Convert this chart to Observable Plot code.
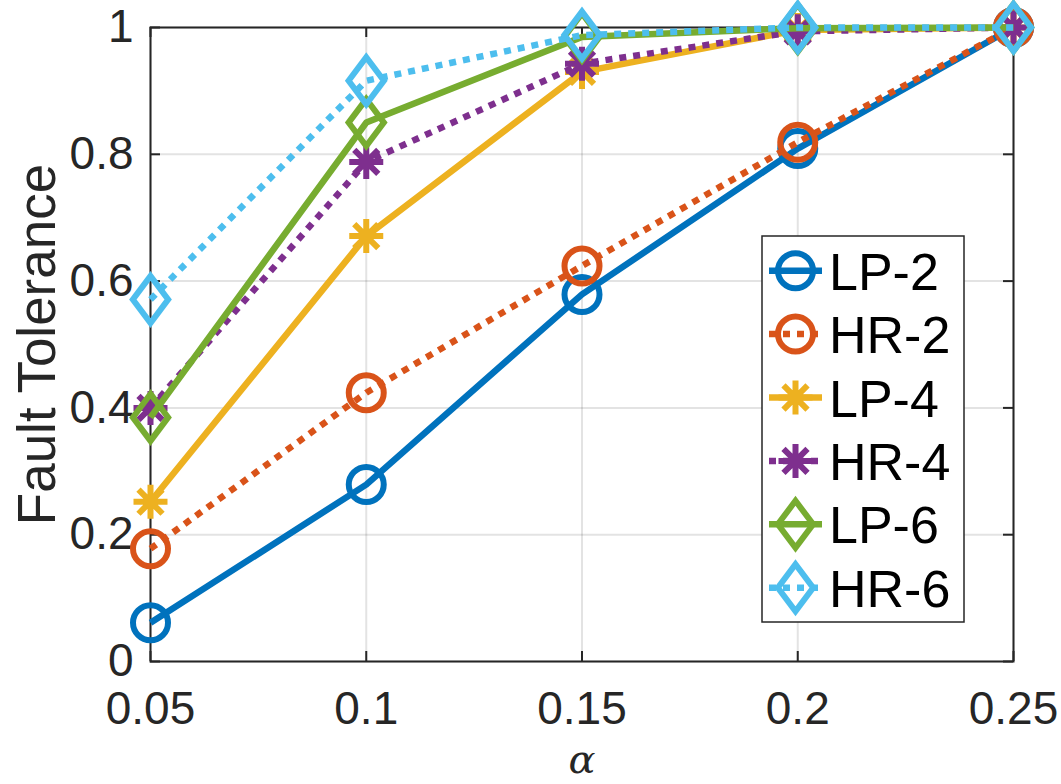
<!DOCTYPE html>
<html><head><meta charset="utf-8">
<script src="https://cdn.jsdelivr.net/npm/d3@7"></script>
<script src="https://cdn.jsdelivr.net/npm/@observablehq/plot@0.6"></script>
<style>html,body{margin:0;padding:0;background:#fff;} #chart{width:1061px;height:784px;overflow:hidden}</style>
</head><body><div id="chart"></div>
<script>
// ---- data ----
const alpha = [0.05, 0.1, 0.15, 0.2, 0.25];
const seriesNames = ["LP-2", "HR-2", "LP-4", "HR-4", "LP-6", "HR-6"];
const LP2 = [0.061, 0.279, 0.579, 0.809, 1.0];
const HR2 = [0.178, 0.424, 0.624, 0.819, 1.0];
const LP4 = [0.252, 0.671, 0.930, 0.996, 1.0];
const HR4 = [0.400, 0.788, 0.943, 0.994, 1.0];
const LP6 = [0.385, 0.850, 0.985, 0.999, 1.0];
const HR6 = [0.571, 0.916, 0.988, 1.000, 1.0];
const seriesValues = [LP2, HR2, LP4, HR4, LP6, HR6];
const xTicks = [0.05, 0.1, 0.15, 0.2, 0.25];
const xTickLabels = ["0.05", "0.1", "0.15", "0.2", "0.25"];
const yTicks = [0, 0.2, 0.4, 0.6, 0.8, 1];
const yTickLabels = ["0", "0.2", "0.4", "0.6", "0.8", "1"];
const xLabel = "\u03B1";
const yLabel = "Fault Tolerance";

// ---- styles ----
const colors = ["#0072BD", "#D95319", "#EDB120", "#7E2F8E", "#77AC30", "#4DBEEE"];
const dotted = "7,7";
const dashes = [null, dotted, null, dotted, null, dotted];

const asterisk = {draw(ctx, size) {
  const r = Math.sqrt(size / Math.PI), d = r / Math.SQRT2;
  ctx.moveTo(-r, 0); ctx.lineTo(r, 0);
  ctx.moveTo(0, -r); ctx.lineTo(0, r);
  ctx.moveTo(-d, -d); ctx.lineTo(d, d);
  ctx.moveTo(-d, d); ctx.lineTo(d, -d);
}};
const diamond = {draw(ctx, size) {
  const r = Math.sqrt(size / Math.PI), w = r * 0.75;
  ctx.moveTo(0, -r); ctx.lineTo(w, 0); ctx.lineTo(0, r); ctx.lineTo(-w, 0); ctx.closePath();
}};
const symbols = ["circle", "circle", asterisk, asterisk, diamond, diamond];
const radii = [17.5, 17.5, 17, 17, 23.5, 23.5];
const lineW = 6.5, markW = 6;

const tickColor = "#262626";
const W = 1061, H = 784, mL = 150, mR = 48, mT = 27, mB = 123;
const fw = W - mL - mR, fh = H - mT - mB, tl = 10;

const tables = seriesNames.map((name, s) => alpha.map((a, i) => ({alpha: a, value: seriesValues[s][i], series: name})));

const seriesMarks = tables.flatMap((t, s) => [
  Plot.line(t, {x: "alpha", y: "value", stroke: colors[s], strokeWidth: lineW, strokeDasharray: dashes[s], strokeLinejoin: "round", strokeLinecap: "butt"}),
  Plot.dot(t, {x: "alpha", y: "value", r: radii[s], symbol: symbols[s], stroke: colors[s], strokeWidth: markW, fill: "none", strokeLinejoin: "miter"})
]);

const plot = Plot.plot({
  width: W, height: H,
  marginLeft: mL, marginRight: mR, marginTop: mT, marginBottom: mB,
  style: {fontFamily: "'Liberation Sans', Arial, sans-serif", background: "#fff", overflow: "visible"},
  x: {domain: [0.05, 0.25], ticks: xTicks},
  y: {domain: [0, 1], ticks: yTicks},
  marks: [
    Plot.gridX(xTicks, {stroke: "#000", strokeOpacity: 0.11, strokeWidth: 2}),
    Plot.gridY(yTicks, {stroke: "#000", strokeOpacity: 0.11, strokeWidth: 2}),
    Plot.frame({stroke: tickColor, strokeWidth: 2}),
    Plot.tickX(xTicks, {x: d => d, stroke: tickColor, strokeWidth: 2, insetTop: fh - tl}),
    Plot.tickX(xTicks, {x: d => d, stroke: tickColor, strokeWidth: 2, insetBottom: fh - tl}),
    Plot.tickY(yTicks, {y: d => d, stroke: tickColor, strokeWidth: 2, insetRight: fw - tl}),
    Plot.tickY(yTicks, {y: d => d, stroke: tickColor, strokeWidth: 2, insetLeft: fw - tl}),
    Plot.axisX(xTicks, {anchor: "bottom", tickSize: 0, tickPadding: 30, fontSize: 46, color: tickColor, tickFormat: d => xTickLabels[xTicks.indexOf(d)], label: null}),
    Plot.axisY(yTicks, {anchor: "left", tickSize: 0, tickPadding: 17, fontSize: 46, color: tickColor, tickFormat: d => yTickLabels[yTicks.indexOf(d)], label: null}),
    Plot.text([yLabel], {frameAnchor: "left", textAnchor: "middle", lineAnchor: "middle", dx: -112, rotate: -90, fontSize: 53, fill: tickColor}),
    Plot.text([xLabel], {frameAnchor: "bottom", textAnchor: "middle", lineAnchor: "middle", dy: 99, fontSize: 40, fontStyle: "italic", fontFamily: "'DejaVu Serif', 'Liberation Serif', serif", fill: tickColor}),
    ...seriesMarks
  ]
});

// ---- legend ----
const svg = d3.select(plot);
const lg = svg.append("g").attr("class", "legend").attr("text-anchor", "start");
const bx = 762, by = 236, bw = 202, bh = 386, rowH = 63.4, row0 = 270.7;
lg.append("rect").attr("x", bx).attr("y", by).attr("width", bw).attr("height", bh)
  .attr("fill", "#fff").attr("stroke", tickColor).attr("stroke-width", 1.5);
seriesNames.forEach((name, s) => {
  const cy = row0 + s * rowH;
  lg.append("line").attr("x1", 769).attr("x2", 822).attr("y1", cy).attr("y2", cy)
    .attr("stroke", colors[s]).attr("stroke-width", lineW).attr("stroke-dasharray", dashes[s]);
  const r = radii[s];
  lg.append("path").attr("transform", `translate(795.5,${cy})`)
    .attr("d", d3.symbol().type(symbols[s] === "circle" ? d3.symbolCircle : symbols[s]).size(Math.PI * r * r)())
    .attr("fill", "none").attr("stroke", colors[s]).attr("stroke-width", markW).attr("stroke-linejoin", "miter");
  lg.append("text").attr("x", 829).attr("y", cy + 19).attr("font-size", 52)
    .attr("text-anchor", "start")
    .attr("font-family", "'Liberation Sans', Arial, sans-serif").attr("fill", "#000").text(name);
});

document.getElementById("chart").appendChild(plot);
</script>
</body></html>
